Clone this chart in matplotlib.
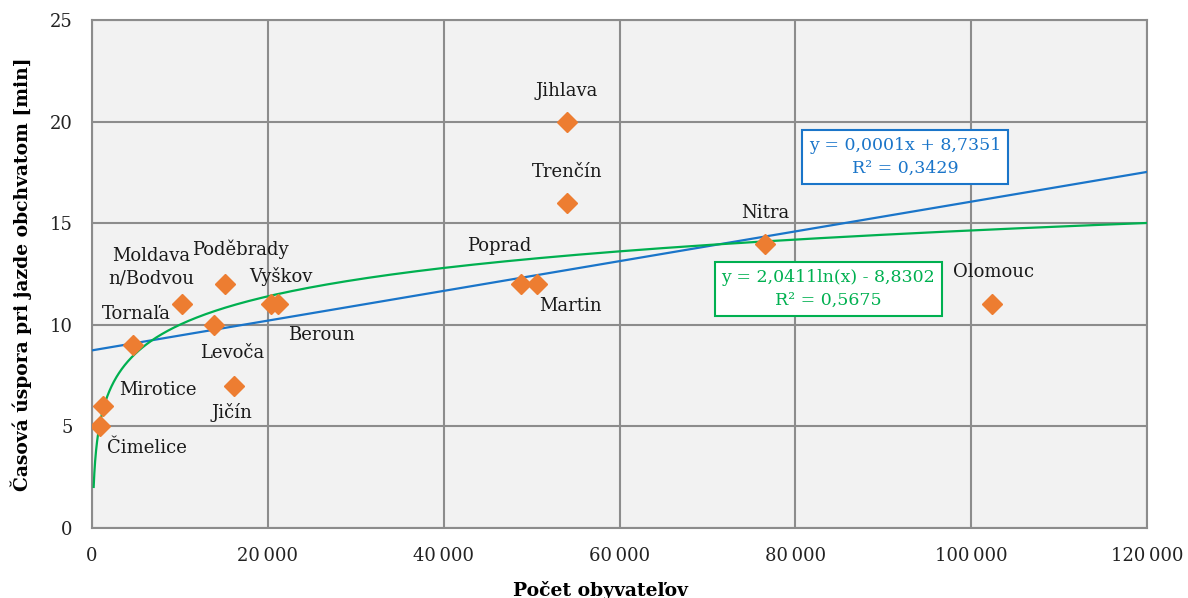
import numpy as np
import matplotlib
matplotlib.use("Agg")
import matplotlib.pyplot as plt
from matplotlib.ticker import FuncFormatter, MultipleLocator

plt.rcParams['font.family'] = ['DejaVu Serif']

towns = ["Čimelice", "Mirotice", "Tornaľa", "Moldava\nn/Bodvou", "Levoča", "Poděbrady",
         "Jičín", "Vyškov", "Beroun", "Poprad", "Martin", "Jihlava", "Trenčín", "Nitra", "Olomouc"]
population = [900, 1250, 4660, 10240, 13880, 15130, 16150, 20400, 21200,
              48800, 50600, 54000, 54000, 76600, 102400]
time_saving = [5, 6, 9, 11, 10, 12, 7, 11, 11, 12, 12, 20, 16, 14, 11]

# label offsets in pixels (dx, dy) relative to each point
label_offsets = [(47, -22), (55, 16), (3, 31), (-31, 37), (18, -28), (15, 35),
                 (-2, -27), (10, 28), (43, -31), (-22, 38), (34, -22),
                 (0, 31), (0, 31), (0, 31), (1, 32)]

lin_label = "y = 0,0001x + 8,7351\nR² = 0,3429"
log_label = "y = 2,0411ln(x) - 8,8302\nR² = 0,5675"

x = np.array(population, dtype=float)
y = np.array(time_saving, dtype=float)

fig = plt.figure(figsize=(11.88, 5.98), dpi=100)
ax = fig.add_axes([92/1188, 70/598, 1055/1188, 508/598])
ax.set_facecolor("#f2f2f2")

grid_c = "#8c8c8c"
ax.set_xlim(0, 120000)
ax.set_ylim(0, 25)
ax.xaxis.set_major_locator(MultipleLocator(20000))
ax.yaxis.set_major_locator(MultipleLocator(5))
ax.grid(True, color=grid_c, linewidth=1.5, zorder=0)
ax.set_axisbelow(True)
for s in ax.spines.values():
    s.set_color(grid_c)
    s.set_linewidth(1.5)
ax.tick_params(length=0, labelsize=13, colors="#222222", pad=14)
ax.xaxis.set_major_formatter(FuncFormatter(lambda v, p: f"{int(v):,}".replace(",", "\u2009")))

# trend lines
b1, a1 = np.polyfit(x, y, 1)
xl = np.linspace(0, 120000, 200)
ax.plot(xl, b1 * xl + a1, color="#1a75c9", linewidth=1.6, zorder=3)
b2, a2 = np.polyfit(np.log(x), y, 1)
xg = np.geomspace(190, 120000, 400)
ax.plot(xg, b2 * np.log(xg) + a2, color="#00b050", linewidth=1.6, zorder=3)

ax.plot(x, y, linestyle="none", marker="D", markersize=10.5, color="#ed7d31", zorder=4)

for name, xi, yi, (dx, dy) in zip(towns, population, time_saving, label_offsets):
    ax.annotate(name, (xi, yi), xytext=(dx, dy), textcoords="offset pixels",
                ha="center", va="center", fontsize=13, color="#1a1a1a",
                linespacing=1.3, zorder=5)

ax.text(0.7706, 0.7303, lin_label, transform=ax.transAxes, ha="center", va="center",
        fontsize=12.5, color="#1a75c9", linespacing=1.45, multialignment="center",
        bbox=dict(boxstyle="square,pad=0.38", facecolor="white", edgecolor="#1a75c9", linewidth=1.5),
        zorder=6)
ax.text(0.698, 0.4705, log_label, transform=ax.transAxes, ha="center", va="center",
        fontsize=12.5, color="#00b050", linespacing=1.45, multialignment="center",
        bbox=dict(boxstyle="square,pad=0.38", facecolor="white", edgecolor="#00b050", linewidth=1.5),
        zorder=6)

ax.set_xlabel("Počet obyvateľov", fontsize=13.5, fontweight="bold")
ax.xaxis.set_label_coords((600 - 92) / 1055, -0.104)
ax.set_ylabel("Časová úspora pri jazde obchvatom [min]", fontsize=13.5, fontweight="bold")
ax.yaxis.set_label_coords(-0.057, 0.5)

fig.savefig("out.png", dpi=100)
